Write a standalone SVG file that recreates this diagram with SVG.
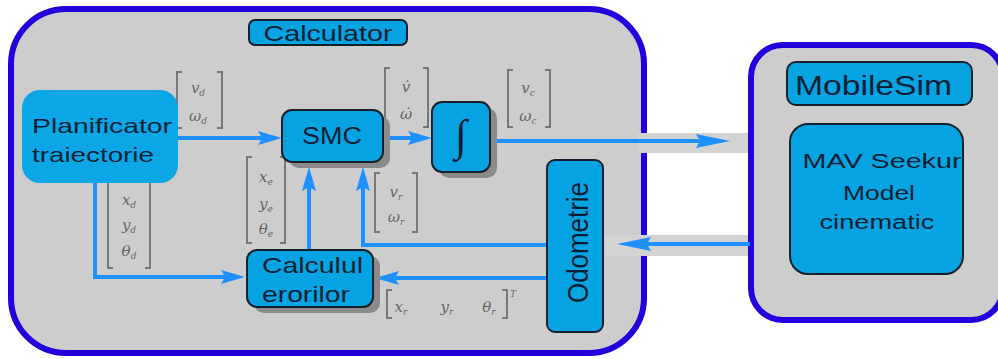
<svg xmlns="http://www.w3.org/2000/svg" width="998" height="359" viewBox="0 0 998 359">
<defs>
<style>
.frame{fill:#cdcdcd;stroke:#1f00dc;stroke-width:6}
.band{fill:#d3d3d3}
.box{fill:#06a3e2;stroke:#14202c;stroke-width:2}
.plain{fill:#0aa6e6}
.shadow{fill:#8b8b8b}
.lbl{font-family:"Liberation Sans",Arial,sans-serif;fill:#0b1f33}
.conn{fill:none;stroke:#1e90ff;stroke-width:4}
.br{fill:none;stroke:#777;stroke-width:2}
.m{font-family:"DejaVu Serif","Liberation Serif",serif;font-style:italic;fill:#666;font-size:15px;text-anchor:middle}
.s{font-size:9px}
</style>
<marker id="arr" markerUnits="userSpaceOnUse" markerWidth="26" markerHeight="14" refX="14" refY="7" orient="auto">
<path d="M0,0 L24,7 L0,14 L4,7 Z" fill="#1e90ff"/>
</marker>
<marker id="arrL" markerUnits="userSpaceOnUse" markerWidth="36" markerHeight="14" refX="24" refY="7" orient="auto">
<path d="M0,0 L34,7 L0,14 L4,7 Z" fill="#1e90ff"/>
</marker>
</defs>
<rect width="998" height="359" fill="#fff"/>

<g id="calculator-frame">
<rect class="frame" x="11" y="9" width="633" height="344" rx="55"/>
</g>
<g id="bands">
<rect class="band" x="638" y="133" width="113" height="20"/>
<rect class="band" x="603" y="235" width="148" height="21"/>
</g>
<g id="mobilesim-frame">
<rect class="frame" x="751" y="45" width="252" height="275" rx="32"/>
</g>

<g id="calculator-label">
<rect class="box" x="249" y="20" width="158" height="25" rx="6"/>
<text class="lbl" x="328" y="41" font-size="22" text-anchor="middle" textLength="129" lengthAdjust="spacingAndGlyphs">Calculator</text>
</g>

<g id="math">
<g id="m-vd">
<path class="br" d="M182,72 H177 V128 H182 M217,72 H222 V128 H217"/>
<text class="m" x="198" y="93">v<tspan class="s" dy="3">d</tspan></text>
<text class="m" x="198" y="121">ω<tspan class="s" dy="3">d</tspan></text>
</g>
<g id="m-vdot">
<path class="br" d="M390,68 H385 V127 H390 M423,68 H428 V127 H423"/>
<text class="m" x="406" y="92">v&#x307;</text>
<text class="m" x="406" y="119">ω&#x307;</text>
</g>
<g id="m-vc">
<path class="br" d="M513,70 H508 V127 H513 M545,70 H550 V127 H545"/>
<text class="m" x="528" y="93">v<tspan class="s" dy="3">c</tspan></text>
<text class="m" x="528" y="121">ω<tspan class="s" dy="3">c</tspan></text>
</g>
<g id="m-xd">
<path class="br" d="M113,176 H108 V268 H113 M145,176 H150 V268 H145"/>
<text class="m" x="129" y="205">x<tspan class="s" dy="3">d</tspan></text>
<text class="m" x="129" y="230">y<tspan class="s" dy="3">d</tspan></text>
<text class="m" x="129" y="256">θ<tspan class="s" dy="3">d</tspan></text>
</g>
<g id="m-xe">
<path class="br" d="M252,157 H247 V243 H252 M280,157 H285 V243 H280"/>
<text class="m" x="266" y="182">x<tspan class="s" dy="3">e</tspan></text>
<text class="m" x="266" y="209">y<tspan class="s" dy="3">e</tspan></text>
<text class="m" x="266" y="234">θ<tspan class="s" dy="3">e</tspan></text>
</g>
<g id="m-vr">
<path class="br" d="M380,173 H375 V232 H380 M412,173 H417 V232 H412"/>
<text class="m" x="396" y="197">v<tspan class="s" dy="3">r</tspan></text>
<text class="m" x="396" y="222">ω<tspan class="s" dy="3">r</tspan></text>
</g>
<g id="m-xr">
<path class="br" d="M392,290 H387 V318 H392 M502,290 H507 V318 H502"/>
<text class="m" x="401" y="312">x<tspan class="s" dy="3">r</tspan></text>
<text class="m" x="447" y="312">y<tspan class="s" dy="3">r</tspan></text>
<text class="m" x="489" y="312">θ<tspan class="s" dy="3">r</tspan></text>
<text class="m s" x="513" y="297">T</text>
</g>
</g>

<g id="connectors">
<path class="conn" d="M178,138 H272" marker-end="url(#arr)"/>
<path class="conn" d="M383,138 H422" marker-end="url(#arr)"/>
<path class="conn" d="M490,141 H720" marker-end="url(#arrL)"/>
<path class="conn" d="M750,244 H627" marker-end="url(#arrL)"/>
<path class="conn" d="M95,180 V277 H235" marker-end="url(#arr)"/>
<path class="conn" d="M309,250 V177" marker-end="url(#arr)"/>
<path class="conn" d="M547,245 H363 V177" marker-end="url(#arr)"/>
<path class="conn" d="M547,278 H385" marker-end="url(#arr)"/>
</g>

<g id="planificator">
<rect class="plain" x="22" y="90" width="156" height="93" rx="18"/>
<text class="lbl" x="32" y="133" font-size="21" textLength="140" lengthAdjust="spacingAndGlyphs">Planificator</text>
<text class="lbl" x="32" y="162" font-size="21" textLength="122" lengthAdjust="spacingAndGlyphs">traiectorie</text>
</g>

<g id="smc">
<rect class="shadow" x="289" y="116" width="101" height="52" rx="10"/>
<rect class="box" x="282" y="110" width="101" height="52" rx="10"/>
<text class="lbl" x="332" y="144" font-size="23" text-anchor="middle" textLength="60" lengthAdjust="spacingAndGlyphs">SMC</text>
</g>

<g id="integrator">
<rect class="shadow" x="439" y="108" width="58" height="70" rx="10"/>
<rect class="box" x="432" y="102" width="58" height="70" rx="10"/>
<text x="461" y="150" font-family="'Liberation Serif','DejaVu Serif',serif" font-size="44" fill="#0b1f33" text-anchor="middle">∫</text>
</g>

<g id="calculul-erorilor">
<rect class="shadow" x="254" y="256" width="126" height="57" rx="10"/>
<rect class="box" x="247" y="250" width="126" height="57" rx="10"/>
<text class="lbl" x="262" y="273" font-size="22" textLength="101" lengthAdjust="spacingAndGlyphs">Calculul</text>
<text class="lbl" x="262" y="302" font-size="22" textLength="88" lengthAdjust="spacingAndGlyphs">erorilor</text>
</g>

<g id="odometrie">
<rect class="box" x="547" y="160" width="56" height="172" rx="8"/>
<text class="lbl" transform="translate(588,242.5) rotate(-90)" x="0" y="0" font-size="30" text-anchor="middle" textLength="121" lengthAdjust="spacingAndGlyphs">Odometrie</text>
</g>

<g id="mobilesim-label">
<rect class="box" x="787" y="62" width="185" height="43" rx="9"/>
<text class="lbl" x="795" y="95" font-size="28" textLength="157" lengthAdjust="spacingAndGlyphs">MobileSim</text>
</g>

<g id="mav-seekur">
<rect class="box" x="790" y="124" width="173" height="150" rx="18"/>
<text class="lbl" x="882" y="168" font-size="20" text-anchor="middle" textLength="159" lengthAdjust="spacingAndGlyphs">MAV Seekur</text>
<text class="lbl" x="879" y="200" font-size="20" text-anchor="middle" textLength="72" lengthAdjust="spacingAndGlyphs">Model</text>
<text class="lbl" x="877" y="229" font-size="20" text-anchor="middle" textLength="115" lengthAdjust="spacingAndGlyphs">cinematic</text>
</g>
</svg>
